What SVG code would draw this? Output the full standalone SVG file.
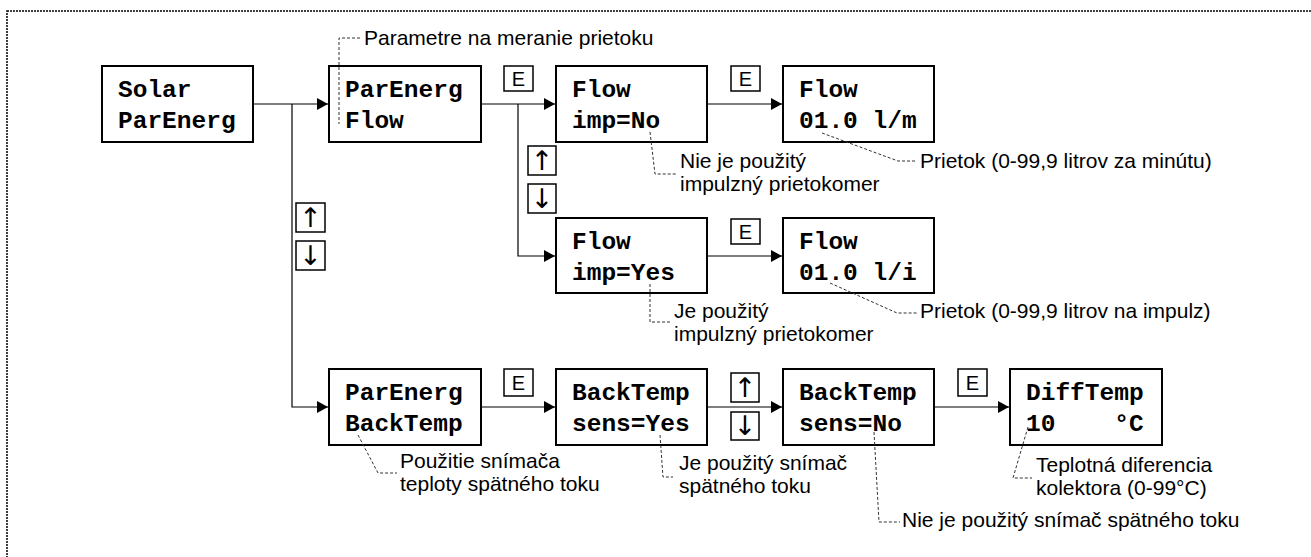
<svg xmlns="http://www.w3.org/2000/svg" width="1311" height="557" viewBox="0 0 1311 557">
<style>
.node{fill:#fff;stroke:#000;stroke-width:2}
.mono{font-family:"Liberation Mono","Courier New",monospace;font-weight:bold;font-size:24.5px;fill:#000;white-space:pre}
.key{fill:#fff;stroke:#000;stroke-width:1.5}
.keyt{font-family:"Liberation Sans",Arial,sans-serif;font-size:20px;fill:#000;text-anchor:middle}
.arr{font-family:"DejaVu Sans",sans-serif;font-size:27px;fill:#000;text-anchor:middle}
.conn{fill:none;stroke:#000;stroke-width:1.2}
.lead{fill:none;stroke:#333;stroke-width:1;stroke-dasharray:3,2}
.note{font-family:"Liberation Sans",Arial,sans-serif;font-size:21px;fill:#000}
.frame{fill:none;stroke:#000;stroke-width:1.5;stroke-dasharray:2,1}
</style>
<defs>
<marker id="ah" markerWidth="12" markerHeight="12" refX="11" refY="6" orient="auto" markerUnits="userSpaceOnUse">
<path d="M0,0 L11,6 L0,12 Z" fill="#000"/>
</marker>
</defs>
<rect width="1311" height="557" fill="#fff"/>
<rect class="frame" x="7" y="11" width="1320" height="560"/>

<g id="connectors">
<path class="conn" d="M253,104 H328" marker-end="url(#ah)"/>
<path class="conn" d="M292,104 V407 H328" marker-end="url(#ah)"/>
<path class="conn" d="M481,104 H555" marker-end="url(#ah)"/>
<path class="conn" d="M518,104 V256 H555" marker-end="url(#ah)"/>
<path class="conn" d="M707,104 H782" marker-end="url(#ah)"/>
<path class="conn" d="M707,256 H782" marker-end="url(#ah)"/>
<path class="conn" d="M481,407 H555" marker-end="url(#ah)"/>
<path class="conn" d="M707,407 H782" marker-end="url(#ah)"/>
<path class="conn" d="M934,407 H1009" marker-end="url(#ah)"/>
</g>

<g id="keys">
<rect class="key" x="504" y="66" width="29" height="25"/><text class="keyt" x="518.5" y="86">E</text>
<rect class="key" x="731" y="66" width="29" height="25"/><text class="keyt" x="745.5" y="86">E</text>
<rect class="key" x="731" y="219" width="29" height="25"/><text class="keyt" x="745.5" y="239">E</text>
<rect class="key" x="504" y="369" width="29" height="27"/><text class="keyt" x="518.5" y="390">E</text>
<rect class="key" x="958" y="369" width="29" height="27"/><text class="keyt" x="972.5" y="390">E</text>
<rect class="key" x="528" y="146" width="28" height="29"/><text class="arr" x="542" y="170">↑</text>
<rect class="key" x="528" y="184" width="28" height="29"/><text class="arr" x="542" y="208">↓</text>
<rect class="key" x="296" y="203" width="29" height="29"/><text class="arr" x="310.5" y="227">↑</text>
<rect class="key" x="296" y="241" width="29" height="29"/><text class="arr" x="310.5" y="265">↓</text>
<rect class="key" x="731" y="373" width="28" height="29"/><text class="arr" x="745" y="397">↑</text>
<rect class="key" x="731" y="412" width="28" height="28"/><text class="arr" x="745" y="435">↓</text>
</g>

<g id="n-solar"><rect class="node" x="102" y="66" width="151" height="76"/><text class="mono" x="118" y="97">Solar</text><text class="mono" x="118" y="128">ParEnerg</text></g>
<g id="n-parflow"><rect class="node" x="329" y="66" width="152" height="76"/><text class="mono" x="345" y="97">ParEnerg</text><text class="mono" x="345" y="128">Flow</text></g>
<g id="n-impno"><rect class="node" x="556" y="66" width="151" height="76"/><text class="mono" x="572" y="97">Flow</text><text class="mono" x="572" y="128">imp=No</text></g>
<g id="n-flowlm"><rect class="node" x="783" y="66" width="151" height="76"/><text class="mono" x="799" y="97">Flow</text><text class="mono" x="799" y="128">01.0 l/m</text></g>
<g id="n-impyes"><rect class="node" x="556" y="218" width="151" height="75"/><text class="mono" x="572" y="249">Flow</text><text class="mono" x="572" y="280">imp=Yes</text></g>
<g id="n-flowli"><rect class="node" x="783" y="218" width="151" height="75"/><text class="mono" x="799" y="249">Flow</text><text class="mono" x="799" y="280">01.0 l/i</text></g>
<g id="n-parback"><rect class="node" x="329" y="369" width="152" height="76"/><text class="mono" x="345" y="400">ParEnerg</text><text class="mono" x="345" y="431">BackTemp</text></g>
<g id="n-sensyes"><rect class="node" x="556" y="369" width="151" height="76"/><text class="mono" x="572" y="400">BackTemp</text><text class="mono" x="572" y="431">sens=Yes</text></g>
<g id="n-sensno"><rect class="node" x="783" y="369" width="151" height="76"/><text class="mono" x="799" y="400">BackTemp</text><text class="mono" x="799" y="431">sens=No</text></g>
<g id="n-diff"><rect class="node" x="1010" y="369" width="152" height="76"/><text class="mono" x="1026" y="400">DiffTemp</text><text class="mono" x="1026" y="431">10    °C</text></g>

<g id="notes">
<path class="lead" d="M360,38 H339 V124"/>
<text class="note" x="364" y="45">Parametre na meranie prietoku</text>
<path class="lead" d="M650,132 L655,174 H676"/>
<text class="note" x="680" y="168">Nie je použitý</text>
<text class="note" x="680" y="191">impulzný prietokomer</text>
<path class="lead" d="M822,133 L898,161 H917"/>
<text class="note" x="920" y="168">Prietok (0-99,9 litrov za minútu)</text>
<path class="lead" d="M650,284 V322 H671"/>
<text class="note" x="674" y="318">Je použitý</text>
<text class="note" x="674" y="341">impulzný prietokomer</text>
<path class="lead" d="M830,283 L897,313 H917"/>
<text class="note" x="920" y="318">Prietok (0-99,9 litrov na impulz)</text>
<path class="lead" d="M358,435 L378,473 H397"/>
<text class="note" x="400" y="468">Použitie snímača</text>
<text class="note" x="400" y="491">teploty spätného toku</text>
<path class="lead" d="M660,435 L663,477 H673"/>
<text class="note" x="679" y="470">Je použitý snímač</text>
<text class="note" x="679" y="493">spätného toku</text>
<path class="lead" d="M874,432 L879,522 H900"/>
<text class="note" x="902" y="527">Nie je použitý snímač spätného toku</text>
<path class="lead" d="M1028,427 L1013,478 H1032"/>
<text class="note" x="1036" y="472">Teplotná diferencia</text>
<text class="note" x="1036" y="495">kolektora (0-99°C)</text>
</g>
</svg>
